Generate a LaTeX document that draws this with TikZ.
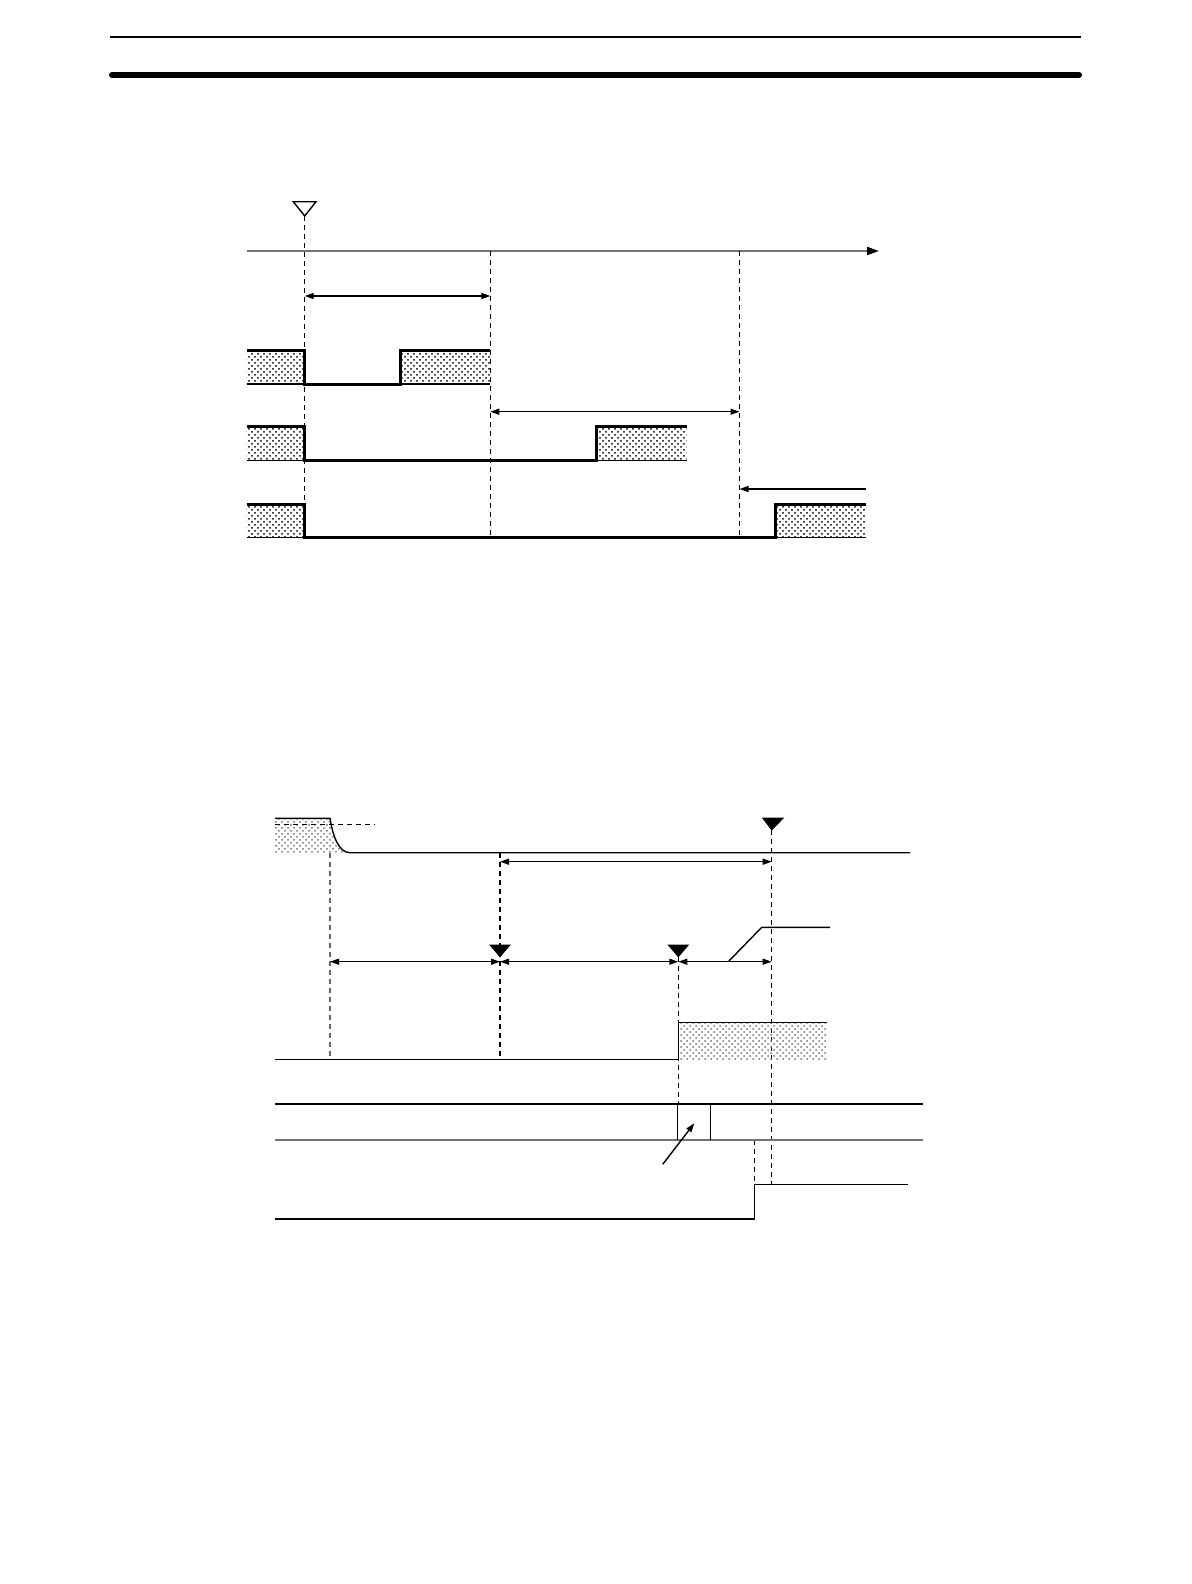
\documentclass[tikz,border=0pt]{standalone}
\usetikzlibrary{patterns,arrows.meta}
\begin{document}
\begin{tikzpicture}[x=0.5pt,y=-0.5pt,
  thinl/.style={line width=0.7pt},
  sig/.style={line width=1.5pt},
  dsh/.style={line width=0.7pt,dash pattern=on 2.5pt off 2pt},
  dim/.style={line width=0.7pt,{Triangle[length=4.5pt,width=3pt]}-{Triangle[length=4.5pt,width=3pt]}},
  onearr/.style={line width=0.7pt,-{Triangle[length=4.5pt,width=3pt]}},
  shadeA/.style={pattern=crosshatch dots,pattern color=black},
  shadeB/.style={pattern=crosshatch dots,pattern color=black!55},
  marker/.style={fill=black,draw=black,line width=0.4pt}]
\useasboundingbox (0,0) rectangle (1192,1584);
% header rules
\draw[line width=1pt] (110,37.5) -- (1081,37.5);
\draw[line width=3pt,line cap=round] (112,75) -- (1079,75);

% ---------------- top diagram ----------------
% time axis
\draw[line width=1pt,draw=black!55,-{Triangle[length=6pt,width=4pt,fill=black,black]}] (246.7,251) -- (879,251);
% dashed lines
\draw[dsh] (304.7,216) -- (304.7,537.7);
\draw[dsh] (490.3,251) -- (490.3,537.7);
\draw[dsh] (739.5,251) -- (739.5,537.7);
% open trigger triangle
\draw[fill=white,line width=0.7pt] (293.3,201.7) -- (316,201.7) -- (304.7,216) -- cycle;
% dimension arrows
\coordinate (d1a) at (304.7,296);
\coordinate (d1b) at (490.3,296);
\draw[dim] (d1a) -- (d1b);
\coordinate (d2a) at (490.3,411.7);
\coordinate (d2b) at (739.5,411.7);
\draw[dim] (d2a) -- (d2b);
\coordinate (d3a) at (866,489);
\coordinate (d3b) at (739.5,489);
\draw[onearr] (d3a) -- (d3b);
% row 1
\fill[shadeA] (246.7,350) rectangle (304.7,384);
\fill[shadeA] (400.7,350) rectangle (490.3,384);
\draw[thinl] (246.7,384) -- (304.7,384);
\draw[thinl] (400.7,384) -- (490.3,384);
\draw[sig] (246.7,350) -- (304.7,350) -- (304.7,384) -- (400.7,384) -- (400.7,350) -- (490.3,350);
% row 2
\fill[shadeA] (246.7,426.7) rectangle (304.7,460.7);
\fill[shadeA] (596.7,426.7) rectangle (686.7,460.7);
\draw[thinl] (246.7,460.7) -- (304.7,460.7);
\draw[thinl] (596.7,460.7) -- (686.7,460.7);
\draw[sig] (246.7,426.7) -- (304.7,426.7) -- (304.7,460.7) -- (596.7,460.7) -- (596.7,426.7) -- (686.7,426.7);
% row 3
\fill[shadeA] (246.7,504) rectangle (304.7,537.7);
\fill[shadeA] (775,504) rectangle (866,537.7);
\draw[thinl] (246.7,537.7) -- (304.7,537.7);
\draw[thinl] (775,537.7) -- (866,537.7);
\draw[sig] (246.7,504) -- (304.7,504) -- (304.7,537.7) -- (775,537.7) -- (775,504) -- (866,504);

% ---------------- bottom diagram ----------------
% decaying input
\fill[shadeB] (275,818.3) -- (330,818.3) .. controls (333,837) and (339,852.7) .. (350,852.7) -- (275,852.7) -- cycle;
\draw[thinl] (275,818.3) -- (330,818.3) .. controls (333,837) and (339,852.7) .. (350,852.7) -- (910,852.7);
\draw[dsh] (275,824.3) -- (375,824.3);
% vertical dashed lines
\draw[dsh,draw=black!60] (330,852.7) -- (330,1059.3);
\draw[dsh] (500,852.7) -- (500,1059.3);
\draw[dsh] (678.3,956.7) -- (678.3,1104);
\draw[dsh] (771.7,830) -- (771.7,1184.3);
\draw[dsh] (754.3,1140) -- (754.3,1184.3);
% filled markers
\draw[marker] (762.7,818) -- (783.3,818) -- (771.7,830) -- cycle;
\draw[marker] (490,945) -- (510,945) -- (500,956.7) -- cycle;
\draw[marker] (668.3,945) -- (688.3,945) -- (678.3,956.7) -- cycle;
% dimension arrows
\coordinate (e1a) at (500,861.7);
\coordinate (e1b) at (771.7,861.7);
\draw[dim] (e1a) -- (e1b);
\coordinate (f1) at (330,961.7);
\coordinate (f2) at (500,961.7);
\coordinate (f3) at (678.3,961.7);
\coordinate (f4) at (771.7,961.7);
\draw[dim] (f1) -- (f2);
\draw[dim] (f2) -- (f3);
\draw[dim] (f3) -- (f4);
% leader line
\coordinate (l1) at (728.3,961.7);
\coordinate (l2) at (761.7,927.3);
\coordinate (l3) at (830,927.3);
\draw[thinl] (l1) -- (l2) -- (l3);
% output row with shading
\fill[shadeB] (678.3,1022.7) rectangle (826.7,1059.3);
\draw[thinl] (275,1059.3) -- (678.3,1059.3) -- (678.3,1022.7) -- (826.7,1022.7);
% bus lines
\draw[thinl] (275,1104) -- (922.7,1104);
\draw[line width=1pt,draw=black!55] (275,1140) -- (922.7,1140);
\draw[thinl] (677.7,1104) -- (677.7,1140);
\draw[thinl] (710.7,1104) -- (710.7,1140);
\coordinate (p1) at (662.7,1164.3);
\coordinate (p2) at (694.3,1123.3);
\draw[onearr] (p1) -- (p2);
% step line
\draw[thinl] (275,1219) -- (754.3,1219) -- (754.3,1184.3) -- (908.3,1184.3);
\end{tikzpicture}
\end{document}
